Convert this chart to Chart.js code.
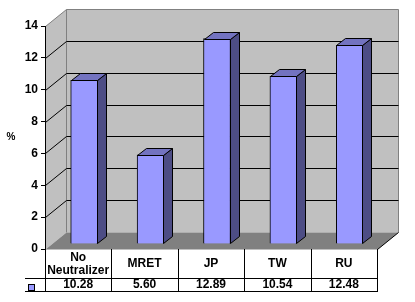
<!DOCTYPE html>
<html>
<head>
<meta charset="utf-8">
<script src="https://cdn.jsdelivr.net/npm/chart.js@4"></script>
<style>
  body { margin: 0; background: #fff; }
  canvas { display: block; }
</style>
</head>
<body>
<canvas id="myChart" width="415" height="302"></canvas>
<script>
// data
var categories = [['No', 'Neutralizer'], 'MRET', 'JP', 'TW', 'RU'];
var values = [10.28, 5.60, 12.89, 10.54, 12.48];
var valueLabels = ['10.28', '5.60', '12.89', '10.54', '12.48'];
var yTicks = [0, 2, 4, 6, 8, 10, 12, 14];

// 3d look
var DX = 21, DY = -17;       // depth of walls / floor
var BDX = 9, BDY = -7;       // depth of a bar
var OFFX = 6, OFFY = -5;     // bars sit a bit into the box
var FONT = 'bold 12px "Liberation Sans", Arial, sans-serif';

var box3d = {
	id: 'box3d',
	beforeDraw: function(chart){
		var ctx = chart.ctx;
		var a = chart.chartArea;
		var y = chart.scales.y;
		var L = a.left + 0.5, R = a.right + 0.5, T = a.top + 0.5, B = a.bottom + 0.5;

		ctx.save();
		ctx.fillStyle = '#fff';
		ctx.fillRect(0, 0, chart.width, chart.height);

		// back wall
		ctx.fillStyle = '#c0c0c0';
		ctx.fillRect(L + DX, T + DY, R - L, B - T);
		// left wall
		ctx.beginPath();
		ctx.moveTo(L, T); ctx.lineTo(L + DX, T + DY); ctx.lineTo(L + DX, B + DY); ctx.lineTo(L, B);
		ctx.closePath();
		ctx.fill();
		// floor
		ctx.fillStyle = '#808080';
		ctx.beginPath();
		ctx.moveTo(L, B); ctx.lineTo(R, B); ctx.lineTo(R + DX, B + DY); ctx.lineTo(L + DX, B + DY);
		ctx.closePath();
		ctx.fill();

		// wall edges
		ctx.lineWidth = 1;
		ctx.strokeStyle = '#808080';
		ctx.beginPath();
		ctx.moveTo(L, T); ctx.lineTo(L + DX, T + DY); ctx.lineTo(R + DX, T + DY); ctx.lineTo(R + DX, B + DY);
		ctx.moveTo(L + DX, T + DY); ctx.lineTo(L + DX, B + DY);
		ctx.stroke();

		// gridlines
		ctx.strokeStyle = '#000';
		ctx.beginPath();
		yTicks.forEach(function(v){
			if (v === 0 || v === 14) return;
			var py = Math.round(y.getPixelForValue(v)) + 0.5;
			ctx.moveTo(L, py); ctx.lineTo(L + DX, py + DY); ctx.lineTo(R + DX, py + DY);
		});
		ctx.moveTo(R, B); ctx.lineTo(R + DX, B + DY);
		ctx.stroke();

		// axis title
		ctx.fillStyle = '#000';
		ctx.font = 'bold 10px "Liberation Sans", Arial, sans-serif';
		ctx.textAlign = 'center';
		ctx.textBaseline = 'middle';
		ctx.fillText('%', 11, 137);
		ctx.restore();
	},
	beforeDatasetsDraw: function(chart){
		chart.ctx.save();
		chart.ctx.translate(OFFX, OFFY);
	},
	afterDatasetsDraw: function(chart){
		var ctx = chart.ctx;
		var meta = chart.getDatasetMeta(0);
		ctx.lineWidth = 1;
		ctx.strokeStyle = '#000';
		meta.data.forEach(function(bar){
			var l = Math.round(bar.x - bar.width / 2) + 0.5;
			var r = Math.round(bar.x + bar.width / 2) - 0.5;
			var t = Math.round(bar.y) + 0.5;
			var b = Math.round(bar.base) - 0.5;
			// side
			ctx.fillStyle = '#4d4d85';
			ctx.beginPath();
			ctx.moveTo(r, t); ctx.lineTo(r + BDX, t + BDY); ctx.lineTo(r + BDX, b + BDY); ctx.lineTo(r, b);
			ctx.closePath();
			ctx.fill(); ctx.stroke();
			// top
			ctx.fillStyle = '#7373c0';
			ctx.beginPath();
			ctx.moveTo(l, t); ctx.lineTo(l + BDX, t + BDY); ctx.lineTo(r + BDX, t + BDY); ctx.lineTo(r, t);
			ctx.closePath();
			ctx.fill(); ctx.stroke();
		});
		ctx.restore();
	},
	afterDraw: function(chart){
		// data table under the chart
		var ctx = chart.ctx;
		var a = chart.chartArea;
		var x = chart.scales.x;
		var n = categories.length;
		var colW = (a.right - a.left) / n;
		var top = Math.round(a.bottom);
		var mid = top + 29, bot = top + 42;

		ctx.save();
		ctx.strokeStyle = '#000';
		ctx.lineWidth = 1;
		ctx.beginPath();
		for (var i = 0; i <= n; i++) {
			var px = Math.round(a.left + i * colW) + 0.5;
			ctx.moveTo(px, top); ctx.lineTo(px, bot + 1);
		}
		ctx.moveTo(25, mid + 0.5); ctx.lineTo(a.right + 1, mid + 0.5);
		ctx.moveTo(25, bot + 0.5); ctx.lineTo(a.right + 1, bot + 0.5);
		ctx.stroke();

		// legend key
		ctx.fillStyle = '#9999ff';
		ctx.fillRect(28.5, mid + 6.5, 6, 6);
		ctx.strokeRect(28.5, mid + 6.5, 6, 6);

		ctx.fillStyle = '#000';
		ctx.font = FONT;
		ctx.textAlign = 'center';
		ctx.textBaseline = 'middle';
		categories.forEach(function(c, i){
			var cx = x.getPixelForValue(i);
			if (Array.isArray(c)) {
				ctx.fillText(c[0], cx, top + 9);
				ctx.fillText(c[1], cx, top + 22);
			} else {
				ctx.fillText(c, cx, top + 15);
			}
			ctx.fillText(valueLabels[i], cx, mid + 7);
		});
		ctx.restore();
	}
};

var ctx = document.getElementById('myChart').getContext('2d');
var chart = new Chart(ctx, {
	type: 'bar',
	data: {
		labels: categories,
		datasets: [{
			label: 'Series 1',
			data: values,
			backgroundColor: '#9999ff',
			borderColor: '#000',
			borderWidth: 1,
			barThickness: 27
		}]
	},
	options: {
		responsive: false,
		animation: false,
		events: [],
		layout: { padding: { left: 0, right: 38, top: 26, bottom: 53 } },
		plugins: { legend: { display: false }, tooltip: { enabled: false } },
		scales: {
			x: { display: false },
			y: {
				min: 0,
				max: 14,
				afterFit: function(scale){ scale.width = 45; },
				afterBuildTicks: function(scale){
					scale.ticks = yTicks.map(function(v){ return { value: v }; });
				},
				ticks: {
					color: '#000',
					padding: 3,
					font: { family: '"Liberation Sans", Arial, sans-serif', size: 12, weight: 'bold' }
				},
				grid: { drawOnChartArea: false, drawTicks: true, tickLength: 4, color: '#000' },
				border: { display: true, color: '#000' }
			}
		}
	},
	plugins: [box3d]
});
</script>
</body>
</html>
